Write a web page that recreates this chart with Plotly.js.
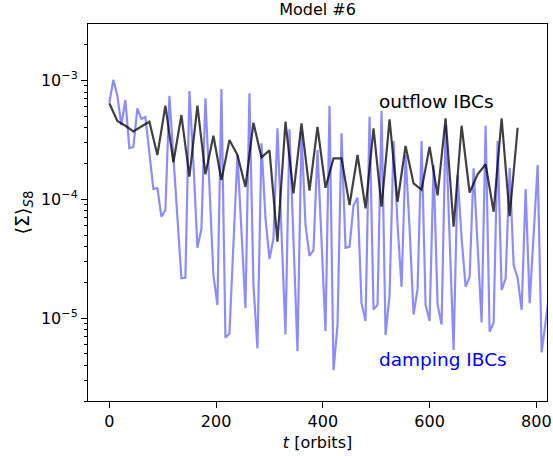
<!DOCTYPE html>
<html>
<head>
<meta charset="utf-8">
<script src="https://cdn.plot.ly/plotly-3.0.1.min.js"></script>
<style>html,body{margin:0;padding:0;background:#fff;}#chart{width:553px;height:456px;}</style>
</head>
<body>
<div id="chart"></div>
<script>
// damping IBCs (blue), sampled every 7.5 orbits
const tDamping = [0,7.5,15,22.5,30,37.5,45,52.5,60,67.5,75,82.5,90,97.5,105,112.5,120,127.5,135,142.5,
150,157.5,165,172.5,180,187.5,195,202.5,210,217.5,225,232.5,240,247.5,255,262.5,270,277.5,285,292.5,
300,307.5,315,322.5,330,337.5,345,352.5,360,367.5,375,382.5,390,397.5,405,412.5,420,427.5,435,442.5,
450,457.5,465,472.5,480,487.5,495,502.5,510,517.5,525,532.5,540,547.5,555,562.5,570,577.5,585,592.5,
600,607.5,615,622.5,630,637.5,645,652.5,660,667.5,675,682.5,690,697.5,705,712.5,720,727.5,735,742.5,
750,757.5,765,772.5,780,787.5,795,802.5,810,817.5,825];
const sigmaDamping = [6.50e-4,1.015e-3,7.45e-4,4.22e-4,6.85e-4,2.69e-4,2.77e-4,5.83e-4,4.74e-4,4.93e-4,
2.45e-4,1.22e-4,1.24e-4,7.13e-5,8.11e-5,7.45e-4,2.29e-4,7.03e-5,2.16e-5,2.18e-5,
8.15e-4,2.02e-4,3.90e-5,5.61e-5,7.08e-4,1.29e-4,2.30e-5,1.29e-5,8.48e-4,6.81e-6,
7.41e-6,4.20e-5,2.36e-4,5.40e-5,1.21e-5,7.80e-4,1.89e-5,5.55e-6,2.96e-4,6.95e-5,
3.13e-5,4.69e-5,3.96e-4,5.32e-5,7.28e-6,3.88e-4,4.71e-5,5.26e-6,3.71e-4,6.07e-5,
3.34e-5,3.73e-5,2.60e-4,4.53e-5,7.76e-6,6.14e-4,3.64e-6,8.71e-6,3.59e-4,3.90e-5,
3.98e-5,8.93e-5,1.03e-4,1.33e-5,9.42e-6,4.95e-4,1.18e-5,1.29e-5,5.53e-4,7.18e-6,
1.56e-5,3.09e-4,6.07e-5,1.83e-5,2.36e-4,5.72e-5,1.07e-5,1.75e-5,3.09e-4,1.29e-5,
9.42e-6,1.94e-4,1.29e-5,8.83e-6,4.22e-4,4.81e-5,5.37e-6,1.60e-4,4.71e-5,1.83e-5,
2.22e-5,1.82e-4,4.11e-5,9.18e-6,4.16e-4,7.65e-6,9.18e-6,3.09e-4,1.72e-5,2.16e-5,
1.84e-4,2.79e-5,2.16e-5,1.17e-5,1.22e-4,1.33e-5,5.09e-5,1.94e-4,5.13e-6,9.93e-6,
1.72e-5];

// outflow IBCs (black), sampled every 15 orbits
const tOutflow = [0,15,30,45,60,75,90,105,120,135,150,165,180,195,210,225,240,255,270,285,
300,315,330,345,360,375,390,405,420,435,450,465,480,495,510,525,540,555,570,585,
600,615,630,645,660,675,690,705,720,735,750,765];
const sigmaOutflow = [6.43e-4,4.56e-4,4.16e-4,3.73e-4,4.10e-4,4.50e-4,2.36e-4,6.14e-4,2.05e-4,5.12e-4,
1.55e-4,6.14e-4,1.62e-4,3.43e-4,1.45e-4,3.15e-4,2.36e-4,1.27e-4,4.41e-4,2.25e-4,
2.58e-4,4.40e-5,4.50e-4,1.12e-4,4.36e-4,1.18e-4,4.06e-4,1.25e-4,2.21e-4,2.21e-4,
8.93e-5,2.36e-4,8.38e-5,3.96e-4,8.65e-5,4.71e-4,9.53e-5,2.81e-4,1.36e-4,1.20e-4,
2.77e-4,1.08e-4,4.81e-4,5.87e-5,4.16e-4,1.14e-4,1.62e-4,1.97e-4,7.85e-5,4.81e-4,
7.21e-5,4.00e-4];

const xTicks = [0,200,400,600,800];
const yTicks = [1e-5,1e-4,1e-3];
const yTickText = ['10<sup>−5</sup>','10<sup>−4</sup>','10<sup>−3</sup>'];
const yMinorTicks = [2e-6,3e-6,4e-6,5e-6,6e-6,7e-6,8e-6,9e-6,
  2e-5,3e-5,4e-5,5e-5,6e-5,7e-5,8e-5,9e-5,
  2e-4,3e-4,4e-4,5e-4,6e-4,7e-4,8e-4,9e-4,
  2e-3,3e-3];
const titleText = 'Model #6';
const xLabel = '<i>t</i> [orbits]';
const yLabel = '⟨Σ⟩<sub><i>S</i>8</sub>';
const labelOutflow = 'outflow IBCs';
const labelDamping = 'damping IBCs';

const FONT = 'DejaVu Sans, sans-serif';

const traces = [
  {x: tDamping, y: sigmaDamping, type: 'scatter', mode: 'lines',
   line: {color: 'rgba(0,0,255,0.45)', width: 2.2}, hoverinfo: 'skip'},
  {x: tOutflow, y: sigmaOutflow, type: 'scatter', mode: 'lines',
   line: {color: 'rgba(0,0,0,0.75)', width: 2.2}, hoverinfo: 'skip'}
];

const layout = {
  width: 553, height: 456,
  margin: {l: 88, r: 6, t: 24, b: 55, pad: 0},
  paper_bgcolor: '#fff', plot_bgcolor: '#fff',
  showlegend: false,
  font: {family: FONT, size: 16, color: '#000'},
  title: {text: titleText, font: {family: FONT, size: 16, color: '#000'},
          x: 0.5, xref: 'paper', y: 1 - 9.5/456, yref: 'container', yanchor: 'middle'},
  xaxis: {
    range: [-40, 820], tickvals: xTicks, ticktext: xTicks.map(String),
    ticks: 'outside', ticklen: 6, tickwidth: 1, tickcolor: '#000',
    showline: true, linecolor: '#000', linewidth: 1, mirror: true,
    showgrid: false, zeroline: false,
    tickfont: {family: FONT, size: 16, color: '#000'},
    title: {text: xLabel, font: {family: FONT, size: 16, color: '#000'}, standoff: 6}
  },
  yaxis: {
    type: 'log', range: [-5.699, -2.524],
    tickmode: 'array', tickvals: yTicks, ticktext: yTickText,
    ticks: 'outside', ticklen: 6, tickwidth: 1, tickcolor: '#000',
    minor: {tickmode: 'array', tickvals: yMinorTicks, ticks: 'outside', ticklen: 3.5,
            tickwidth: 1, tickcolor: '#000', showgrid: false},
    showline: true, linecolor: '#000', linewidth: 1, mirror: true,
    showgrid: false, zeroline: false,
    tickfont: {family: FONT, size: 16, color: '#000'},
    title: {text: yLabel, font: {family: FONT, size: 19, color: '#000'}, standoff: 6}
  },
  annotations: [
    {text: labelOutflow, xref: 'paper', yref: 'paper', x: (377-88)/459, y: (401-101)/377,
     xanchor: 'left', yanchor: 'middle', showarrow: false,
     font: {family: FONT, size: 18.5, color: '#000'}},
    {text: labelDamping, xref: 'paper', yref: 'paper', x: (377-88)/459, y: (401-359)/377,
     xanchor: 'left', yanchor: 'middle', showarrow: false,
     font: {family: FONT, size: 18.5, color: '#0000ff'}}
  ]
};

Plotly.newPlot('chart', traces, layout, {staticPlot: true, displayModeBar: false});
</script>
</body>
</html>
